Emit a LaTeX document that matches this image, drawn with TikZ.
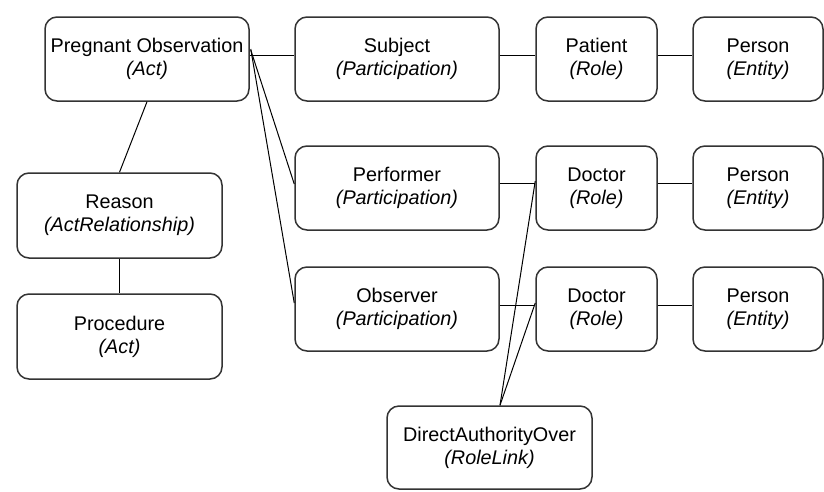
\documentclass[tikz,border=0pt]{standalone}
\usepackage{fontspec}
\setmainfont{Liberation Sans}
\begin{document}
\begin{tikzpicture}[x=1pt,y=-1pt,
  box/.style={draw=black!80, line width=1.5pt, rounded corners=12pt, fill=white,
    align=center, inner sep=0pt, minimum height=84pt,
    font=\fontsize{19.8pt}{23pt}\selectfont, text=black},
  wide/.style={box, minimum width=204pt},
  narrow/.style={box, minimum width=121pt},
  ent/.style={box, minimum width=130pt},
  conn/.style={line width=1pt, black}]
\useasboundingbox[fill=white] (0,0) rectangle (824,491);

\node[wide] (PO) at (147,59) {Pregnant Observation\\\textit{(Act)}};
\node[wide] (Subj) at (397,59) {Subject\\\textit{(Participation)}};
\node[narrow] (Pat) at (596.5,59) {Patient\\\textit{(Role)}};
\node[ent] (Pers1) at (758,59) {Person\\\textit{(Entity)}};

\node[wide] (Perf) at (397,188) {Performer\\\textit{(Participation)}};
\node[narrow] (Doc1) at (596.5,188) {Doctor\\\textit{(Role)}};
\node[ent] (Pers2) at (758,188) {Person\\\textit{(Entity)}};

\node[wide] (Obs) at (397,309) {Observer\\\textit{(Participation)}};
\node[narrow] (Doc2) at (596.5,309) {Doctor\\\textit{(Role)}};
\node[ent] (Pers3) at (758,309) {Person\\\textit{(Entity)}};

\node[wide, minimum width=205pt, minimum height=85pt] (Reason) at (119.5,215.5) {Reason\\\textit{(ActRelationship)}};
\node[wide, minimum width=205pt, minimum height=85pt] (Proc) at (119.5,336.5) {Procedure\\\textit{(Act)}};
\node[wide, minimum width=205pt, minimum height=83pt] (DAO) at (489.5,447.5) {DirectAuthorityOver\\\textit{(RoleLink)}};

% horizontal connectors
\draw[conn] ([yshift=4pt]PO.east) -- ([yshift=4pt]Subj.west);
\draw[conn] ([yshift=4pt]Subj.east) -- ([yshift=4pt]Pat.west);
\draw[conn] ([yshift=4pt]Pat.east) -- ([yshift=4pt]Pers1.west);
\draw[conn] ([yshift=5pt]Perf.east) -- ([yshift=5pt]Doc1.west);
\draw[conn] ([yshift=5pt]Doc1.east) -- ([yshift=5pt]Pers2.west);
\draw[conn] ([yshift=4pt]Obs.east) -- ([yshift=4pt]Doc2.west);
\draw[conn] ([yshift=4pt]Doc2.east) -- ([yshift=4pt]Pers3.west);

% diagonals from Pregnant Observation
\draw[conn] ([xshift=1pt,yshift=9pt]PO.east) -- ([yshift=4pt]Perf.west);
\draw[conn] ([xshift=1pt,yshift=10pt]PO.east) -- ([yshift=6pt]Obs.west);

% act relationship
\draw[conn] (PO.south) -- (Reason.north);
\draw[conn] (Reason.south) -- (Proc.north);

% role links
\draw[conn] ([xshift=10.5pt]DAO.north) -- ([yshift=7pt]Doc1.west);
\draw[conn] ([xshift=10.5pt]DAO.north) -- ([yshift=6pt]Doc2.west);
\end{tikzpicture}
\end{document}
